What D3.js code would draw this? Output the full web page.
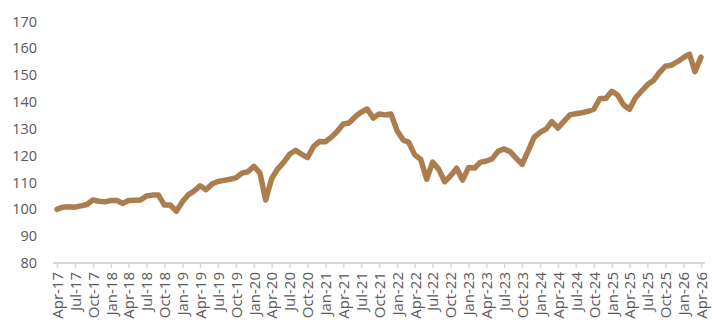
<!DOCTYPE html>
<html>
<head>
<meta charset="utf-8">
<script src="https://cdn.jsdelivr.net/npm/d3@7"></script>
<style>
  body { margin: 0; background: #fff; }
  svg text { font-family: "Open Sans", Lato, sans-serif; fill: #595959; }
</style>
</head>
<body>
<svg id="chart" width="712" height="327"></svg>
<script>
// monthly index values, Apr-17 .. Apr-26
var startMonth = new Date(2017, 3, 1);
var values = [
  100, 100.8, 101, 100.8, 101.3, 101.8, 103.5, 103, 102.8, 103.3, 103.3, 102.2,
  103.3, 103.4, 103.5, 105, 105.3, 105.3, 101.6, 101.6, 99.3, 102.8, 105.5, 106.8,
  108.8, 107.3, 109.4, 110.4, 110.8, 111.2, 111.7, 113.5, 114, 116, 113.5, 103.5,
  111.5, 115, 117.5, 120.5, 122, 120.5, 119.3, 123.5, 125.3, 125.2, 127, 129,
  131.8, 132.2, 134.5, 136.2, 137.4, 134, 135.5, 135.2, 135.5, 129.3, 125.8, 125,
  120.3, 118.7, 111.2, 117.6, 115, 110.3, 112.5, 115.3, 110.9, 115.6, 115.4, 117.5,
  118, 118.8, 121.7, 122.5, 121.5, 119, 116.8, 121.8, 126.8, 128.7, 130, 132.7,
  130.3, 132.8, 135.2, 135.6, 136, 136.5, 137.3, 141.3, 141.3, 144, 142.5, 139,
  137.3, 141.5, 144, 146.4, 148, 151, 153.3, 153.7, 155, 156.5, 157.8, 151.3,
  156.7
];
var yTicks = [80, 90, 100, 110, 120, 130, 140, 150, 160, 170];

var data = values.map(function(v, i) {
    return { date: d3.timeMonth.offset(startMonth, i), value: v };
});
var endMonth = data[data.length - 1].date;

var svg = d3.select("#chart");

var xScale = d3.scaleTime()
    .domain([startMonth, endMonth])
    .range([57, 701]);

var yScale = d3.scaleLinear()
    .domain([80, 170])
    .range([263, 21.5]);

// quarterly tick marks and labels
var xTicks = d3.timeMonth.range(startMonth, d3.timeMonth.offset(endMonth, 1), 3);

var xAxis = d3.axisBottom(xScale)
    .tickValues(xTicks)
    .tickFormat(d3.timeFormat("%b-%y"))
    .tickSize(5)
    .tickSizeOuter(0);

var gx = svg.append("g")
    .attr("transform", "translate(0,263)")
    .call(xAxis);

gx.select(".domain").remove();
gx.append("line")
    .attr("x1", 53)
    .attr("x2", 705)
    .attr("stroke", "#d9d9d9")
    .attr("stroke-width", 2);
gx.selectAll(".tick line")
    .attr("stroke", "#d9d9d9")
    .attr("stroke-width", 1.5)
    .attr("y1", -1);
gx.selectAll(".tick text")
    .attr("transform", "rotate(-90)")
    .attr("x", -9)
    .attr("y", 0)
    .attr("dy", "0.35em")
    .attr("text-anchor", "end")
    .style("font-size", "15px");

var yAxis = d3.axisLeft(yScale)
    .tickValues(yTicks)
    .tickSize(0)
    .tickPadding(20);

var gy = svg.append("g")
    .attr("transform", "translate(57,0)")
    .call(yAxis);
gy.select(".domain").remove();
gy.selectAll(".tick text").style("font-size", "14.5px");

var line = d3.line()
    .x(d => xScale(d.date))
    .y(d => yScale(d.value));

svg.append("path")
    .datum(data)
    .attr("d", line)
    .attr("fill", "none")
    .attr("stroke", "#AC7E4F")
    .attr("stroke-width", 5.5)
    .attr("stroke-linejoin", "round")
    .attr("stroke-linecap", "round");
</script>
</body>
</html>
